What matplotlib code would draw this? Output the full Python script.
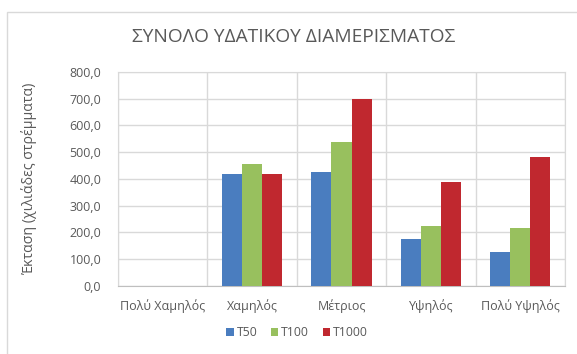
import numpy as np
import matplotlib.pyplot as plt
from matplotlib.patches import Rectangle
from matplotlib.ticker import FuncFormatter, FixedLocator

plt.rcParams['font.family'] = ['Open Sans', 'DejaVu Sans']

categories = ['Πολύ Χαμηλός', 'Χαμηλός', 'Μέτριος', 'Υψηλός', 'Πολύ Υψηλός']
series_names = ['T50', 'T100', 'T1000']
t50 = [0, 419, 424, 173, 126]
t100 = [0, 456, 539, 225, 215]
t1000 = [0, 419, 700, 389, 482]
colors = ['#4a7dbf', '#98c05e', '#c0282f']

text_color = '#595959'
grid_color = '#d9d9d9'

fig = plt.figure(figsize=(5.77, 3.54), dpi=100)

# outer chart border (only top and left edges visible)
fig.patches.append(Rectangle((7 / 577, -0.1), 1.1, 1 - 12 / 354 + 0.1,
                             transform=fig.transFigure, fill=False,
                             edgecolor='#d9d9d9', linewidth=1.0))

ax = fig.add_axes([118 / 577, 1 - 285.7 / 354, 447 / 577, 213.7 / 354])

x = np.arange(len(categories))
width = 0.224
for i, (vals, name) in enumerate(zip([t50, t100, t1000], series_names)):
    ax.bar(x + (i - 1) * width, vals, width, color=colors[i], label=name, zorder=3)

ax.set_xlim(-0.5, len(categories) - 0.5)
ax.set_ylim(0, 800)
ax.set_yticks(np.arange(0, 801, 100))
ax.yaxis.set_major_formatter(FuncFormatter(lambda v, _: f'{v:.1f}'.replace('.', ',')))
ax.set_xticks(x)
ax.set_xticklabels(categories)
ax.xaxis.set_minor_locator(FixedLocator(np.arange(-0.5, len(categories), 1.0)))

ax.grid(axis='y', color=grid_color, linewidth=1.0, zorder=0)
ax.grid(axis='x', which='minor', color=grid_color, linewidth=1.0, zorder=0)
ax.tick_params(axis='both', which='both', length=0, colors=text_color, labelsize=9)
ax.tick_params(axis='x', pad=10)
ax.tick_params(axis='y', pad=12)

for side in ['top', 'right', 'left']:
    ax.spines[side].set_color(grid_color)
ax.spines['bottom'].set_color('#bfbfbf')

ax.set_ylabel('Έκταση (χιλιάδες στρέμματα)', color=text_color, fontsize=10.2)
ax.yaxis.set_label_coords(-0.181, 0.5)

fig.text(294 / 577, 1 - 37 / 354, 'ΣΥΝΟΛΟ ΥΔΑΤΙΚΟΥ ΔΙΑΜΕΡΙΣΜΑΤΟΣ',
         ha='center', va='center', fontsize=13.8, color=text_color)

fig.legend(loc='center', bbox_to_anchor=(297 / 577, 1 - 333 / 354), ncol=3,
           frameon=False, fontsize=8.8, labelcolor=text_color,
           handlelength=0.6, handleheight=0.6, handletextpad=0.25,
           columnspacing=1.1)

fig.savefig('out.png', dpi=100)
